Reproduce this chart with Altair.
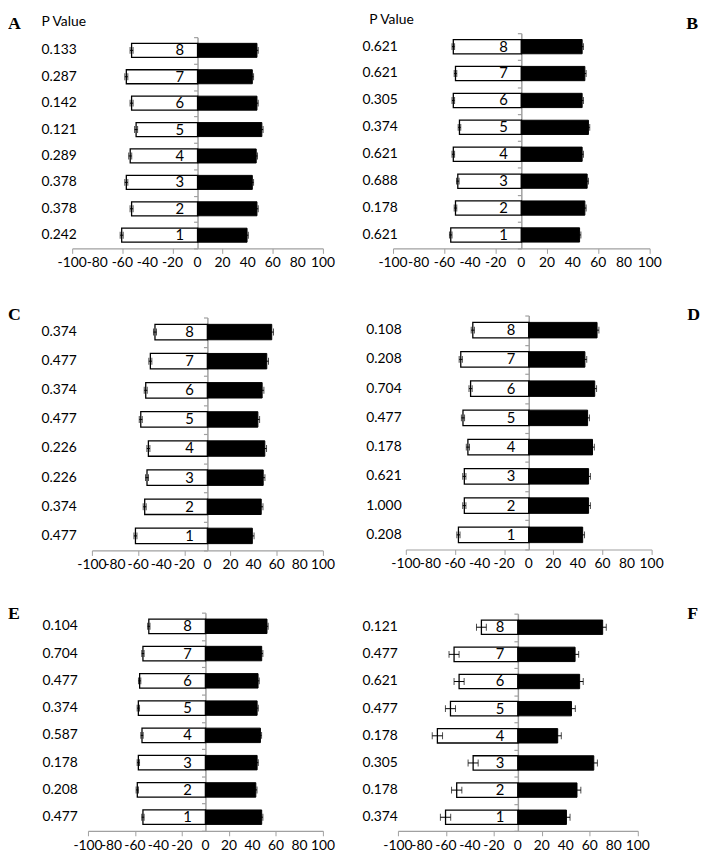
import altair as alt
import pandas as pd

cats = [1, 2, 3, 4, 5, 6, 7, 8]
ticks_x = [-100, -80, -60, -40, -20, 0, 20, 40, 60, 80, 100]

# Panel A
a_p = ["0.242", "0.378", "0.378", "0.289", "0.121", "0.142", "0.287", "0.133"]
a_neg = [-60.5, -52.6, -56.8, -53.7, -49.0, -52.6, -56.8, -52.6]
a_pos = [39.5, 47.4, 43.7, 46.8, 51.3, 47.4, 43.7, 47.4]
a_eneg = [1.2, 1.2, 1.2, 1.2, 1.2, 1.2, 1.2, 1.2]
a_epos = [1.0, 1.0, 1.0, 1.0, 1.0, 1.0, 1.0, 1.0]

# Panel B
b_p = ["0.621", "0.178", "0.688", "0.621", "0.374", "0.305", "0.621", "0.621"]
b_neg = [-55.0, -51.3, -49.5, -53.0, -48.2, -53.0, -51.3, -53.0]
b_pos = [45.4, 49.5, 51.3, 47.4, 52.3, 47.4, 49.5, 47.4]
b_eneg = [1.0, 1.0, 1.0, 1.0, 1.0, 1.0, 1.0, 1.0]
b_epos = [1.0, 1.0, 1.0, 1.0, 1.0, 1.0, 1.0, 1.0]

# Panel C
c_p = ["0.477", "0.374", "0.226", "0.226", "0.477", "0.374", "0.477", "0.374"]
c_neg = [-62.3, -54.3, -52.3, -51.1, -57.7, -53.4, -49.4, -45.4]
c_pos = [38.9, 46.6, 48.3, 49.7, 43.7, 47.4, 51.4, 55.7]
c_eneg = [1.3, 1.3, 1.3, 1.3, 1.3, 1.3, 1.3, 1.3]
c_epos = [1.5, 1.5, 1.5, 1.5, 1.5, 1.5, 1.5, 1.5]

# Panel D
d_p = ["0.208", "1.000", "0.621", "0.178", "0.477", "0.704", "0.208", "0.108"]
d_neg = [-57.2, -52.4, -52.4, -49.5, -53.5, -47.3, -55.3, -45.5]
d_pos = [43.9, 48.7, 48.7, 51.9, 47.9, 53.7, 45.7, 55.6]
d_eneg = [1.3, 1.3, 1.3, 1.3, 1.3, 1.3, 1.3, 1.3]
d_epos = [1.5, 1.5, 1.5, 1.5, 1.5, 1.5, 1.5, 1.5]

# Panel E
e_p = ["0.477", "0.208", "0.178", "0.587", "0.374", "0.477", "0.704", "0.104"]
e_neg = [-53.2, -58.0, -57.1, -54.0, -57.1, -56.0, -53.2, -48.2]
e_pos = [47.9, 42.9, 44.0, 46.8, 44.0, 44.8, 47.9, 52.4]
e_eneg = [1.0, 1.0, 1.0, 1.0, 1.0, 1.0, 1.0, 1.0]
e_epos = [1.0, 1.0, 1.0, 1.0, 1.0, 1.0, 1.0, 1.0]

# Panel F
f_p = ["0.374", "0.178", "0.305", "0.178", "0.477", "0.621", "0.477", "0.121"]
f_neg = [-60.3, -51.0, -37.3, -67.1, -56.2, -49.0, -53.2, -30.4]
f_pos = [40.5, 49.3, 63.3, 33.2, 44.7, 51.5, 47.7, 70.7]
f_eneg = [4.3, 4.3, 4.2, 4.3, 4.2, 4.2, 4.2, 4.1]
f_epos = [3.0, 3.2, 3.0, 3.0, 3.2, 3.0, 3.0, 3.0]

W, H = 266, 240
SANS = "Lato"
GREY = "#a0a0a0"


def panel(letter, pvals, neg, pos, eneg, epos, xr, yr, px, lx, ly, header=None):
    df = pd.DataFrame({"cat": cats, "neg": neg, "pos": pos, "p": pvals,
                       "eneg": eneg, "epos": epos})
    df["nlo"] = df["neg"] - df["eneg"]
    df["nhi"] = df["neg"] + df["eneg"]
    df["plo"] = df["pos"] - df["epos"]
    df["phi"] = df["pos"] + df["epos"]
    caps = pd.concat([
        pd.DataFrame({"cat": df["cat"], "v": df[c]}) for c in ["nlo", "nhi", "plo", "phi"]
    ])
    tdf = pd.DataFrame({"v": ticks_x, "lab": [str(t) for t in ticks_x]})
    zero_px = (xr[0] + xr[1]) / 2
    xs = alt.Scale(domain=[-100, 100], range=xr, nice=False, zero=False)
    ys = alt.Scale(range=yr, paddingInner=0, paddingOuter=0)
    xaxis = alt.Axis(values=ticks_x, grid=False, title=None, offset=-(H - yr[1]),
                     domainColor=GREY, domainWidth=1.2, tickColor=GREY, tickSize=5,
                     labels=False)
    yenc = alt.Y("cat:O", sort="descending", scale=ys,
                 axis=alt.Axis(labels=False, title=None, domainColor=GREY, domainWidth=1.5,
                               tickColor=GREY, tickSize=4, tickWidth=1.2,
                               tickBand="extent", offset=-zero_px, grid=False))
    base = alt.Chart(df)
    neg_bar = base.mark_bar(fill="white", stroke="black", strokeWidth=1.3,
                            height={"band": 0.53}).encode(
        x=alt.X("neg:Q", scale=xs, axis=xaxis), y=yenc)
    pos_bar = base.mark_bar(fill="black", stroke="black", strokeWidth=1,
                            height={"band": 0.53}).encode(
        x=alt.X("pos:Q", scale=xs, axis=xaxis), y=yenc)
    nrule = base.mark_rule(color="black", strokeWidth=1).encode(
        x=alt.X("nlo:Q", scale=xs, axis=xaxis), x2="nhi:Q", y=yenc)
    prule = base.mark_rule(color="black", strokeWidth=1).encode(
        x=alt.X("plo:Q", scale=xs, axis=xaxis), x2="phi:Q", y=yenc)
    capm = alt.Chart(caps).mark_tick(color="black", thickness=1, size=7).encode(
        x=alt.X("v:Q", scale=xs, axis=xaxis), y=yenc)
    nums = base.mark_text(font=SANS, fontSize=15, dx=-18, align="center",
                          baseline="middle", color="black").encode(
        x=alt.datum(0), y=yenc, text="cat:O")
    pv = base.mark_text(font=SANS, fontSize=14, align="left", baseline="middle",
                        color="black").encode(
        x=alt.value(px), y=yenc, text="p:N")
    tl = alt.Chart(tdf).mark_text(font=SANS, fontSize=14, align="center",
                                  baseline="top", color="black").encode(
        x=alt.X("v:Q", scale=xs, axis=xaxis), y=alt.value(yr[1] + 8), text="lab:N")
    lab = alt.Chart(pd.DataFrame({"t": [letter]})).mark_text(
        font="Liberation Serif", fontWeight="bold", fontSize=18, align="left",
        baseline="alphabetic", color="black").encode(
        x=alt.value(lx), y=alt.value(ly), text="t:N")
    layers = [neg_bar, pos_bar, nrule, prule, capm, nums, pv, tl, lab]
    if header is not None:
        hd = alt.Chart(pd.DataFrame({"t": ["P Value"]})).mark_text(
            font=SANS, fontSize=14, align="left", baseline="alphabetic",
            color="black").encode(
            x=alt.value(header[0]), y=alt.value(header[1]), text="t:N")
        layers.append(hd)
    return alt.layer(*layers).properties(width=W, height=H)


pA = panel("A", a_p, a_neg, a_pos, a_eneg, a_epos, [3, 257], [8, 222], -28, -62, 0, header=(-28, -3))
pB = panel("B", b_p, b_neg, b_pos, b_eneg, b_epos, [2, 262], [4, 222], -29, 299, 0, header=(-22, -5))
pC = panel("C", c_p, c_neg, c_pos, c_eneg, c_epos, [23, 257], [2, 238], -28, -62, 5)
pD = panel("D", d_p, d_neg, d_pos, d_eneg, d_epos, [15, 264], [0, 237], -25, 300, 5)
pE = panel("E", e_p, e_neg, e_pos, e_eneg, e_epos, [19, 257], [11, 232], -27, -62, 17)
pF = panel("F", f_p, f_neg, f_pos, f_eneg, f_epos, [7, 250], [12, 232], -29, 300, 17)

chart = alt.concat(pA, pB, pC, pD, pE, pF, columns=2,
                   spacing={"row": 50, "column": 60}, bounds="flush", align="all"
                   ).properties(padding=0).configure_view(stroke=None)

chart.save("out.html", embed_options={"renderer": "svg", "actions": False})
